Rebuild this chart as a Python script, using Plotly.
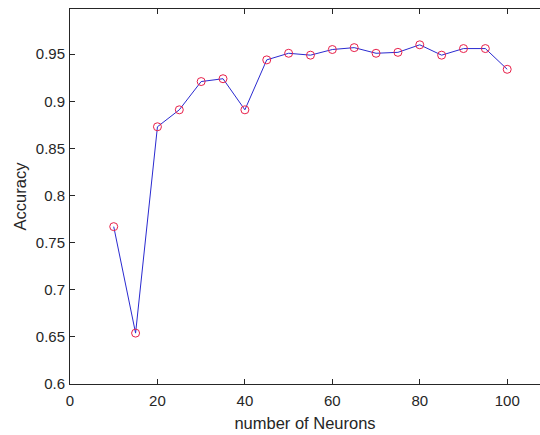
import plotly.graph_objects as go

neurons = [10, 15, 20, 25, 30, 35, 40, 45, 50, 55, 60, 65, 70, 75, 80, 85, 90, 95, 100]
accuracy = [0.767, 0.654, 0.873, 0.891, 0.921, 0.924, 0.891, 0.944, 0.951, 0.949,
            0.955, 0.957, 0.951, 0.952, 0.960, 0.949, 0.956, 0.956, 0.934]
x_ticks = [0, 20, 40, 60, 80, 100]
y_ticks = [0.6, 0.65, 0.7, 0.75, 0.8, 0.85, 0.9, 0.95]
y_tick_text = ["0.6", "0.65", "0.7", "0.75", "0.8", "0.85", "0.9", "0.95"]

fig = go.Figure()
fig.add_trace(go.Scatter(
    x=neurons, y=accuracy, mode="lines",
    line=dict(color="#2a2ad0", width=1), showlegend=False))
fig.add_trace(go.Scatter(
    x=neurons, y=accuracy, mode="markers",
    marker=dict(symbol="circle-open", size=8, color="#e8204a", line=dict(width=1)),
    showlegend=False))

tick_font = dict(family="Liberation Sans, Arial, sans-serif", size=15, color="#262626")
title_font = dict(family="Liberation Sans, Arial, sans-serif", size=16.5, color="#262626")
fig.update_layout(
    width=540, height=435,
    margin=dict(l=70, r=0, t=9, b=51),
    paper_bgcolor="white", plot_bgcolor="white",
    font=tick_font,
    xaxis=dict(range=[0, 107.5], tickvals=x_ticks, ticktext=[str(v) for v in x_ticks],
               ticks="inside", ticklen=5, tickcolor="#262626", showline=True,
               linecolor="#262626", linewidth=1, mirror="ticks", showgrid=False,
               zeroline=False, tickfont=tick_font, ticklabelstandoff=3,
               title=dict(text="number of Neurons", font=title_font, standoff=9)),
    yaxis=dict(range=[0.6, 0.998], tickvals=y_ticks, ticktext=y_tick_text,
               ticks="inside", ticklen=5, tickcolor="#262626", showline=True,
               linecolor="#262626", linewidth=1, mirror=False, showgrid=False,
               zeroline=False, tickfont=tick_font, ticklabelstandoff=1,
               title=dict(text="Accuracy", font=title_font, standoff=5)),
)
fig.write_html("out.html")
